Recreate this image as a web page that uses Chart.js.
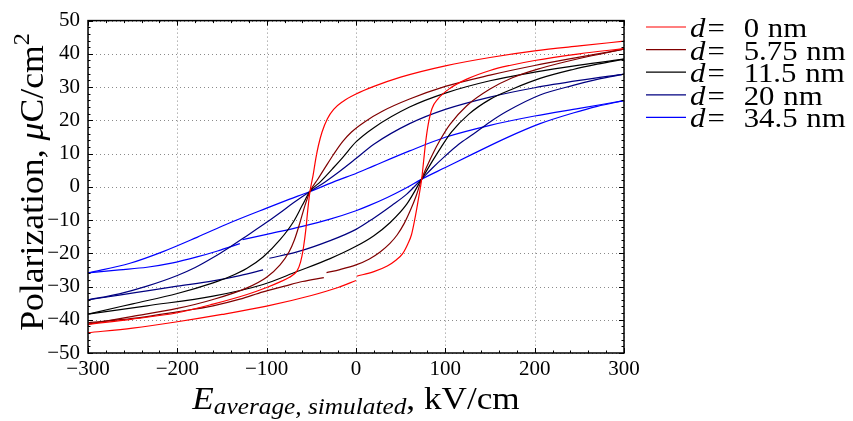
<!DOCTYPE html>
<html>
<head>
<meta charset="utf-8">
<script src="https://cdn.jsdelivr.net/npm/chart.js@4"></script>
<style>
  html, body { margin: 0; padding: 0; background: #fff; }
  #wrap { width: 853px; height: 421px; }
</style>
</head>
<body>
<div id="wrap"><canvas id="loopChart" width="853" height="421"></canvas></div>
<script>
// P-E loops, [E (kV/cm), P (uC/cm^2)]
// upper branch runs +300 -> -300, lower branch -300 -> +300 (some lower branches have a small jump)
var d0Up = [[300,43.8],[250,42.4],[200,40.9],[150,38.9],[100,36.4],[50,33],[20,30.2],[0,27.9],[-15,25.6],[-25,23.3],[-32,20.5],[-38,16.5],[-42,12.5],[-45,8.5],[-48,3.5],[-51.5,-1.4],[-54,-7],[-56,-12.5],[-59,-18.6],[-62,-22.6],[-66,-25.3],[-75,-27.3],[-85,-28.6],[-100,-30.3],[-122,-32.4],[-160,-35.3],[-200,-37.9],[-250,-39.8],[-300,-41.4]];
var d0LowA = [[-300,-43.9],[-250,-42.5],[-200,-40.6],[-150,-38.4],[-100,-35.9],[-50,-32.7],[-20,-30.3],[0,-28.2]];
var d0LowB = [[0.8,-26.9],[20,-25.5],[35,-23.8],[45,-22],[52,-20.2],[58,-17.2],[62,-14.5],[66,-9.5],[70,-3.5],[73.5,2.3],[76,8.5],[78,13.5],[81,19],[85,23.5],[92,26.5],[105,29.6],[124,32.4],[150,35],[172,36.5],[200,38],[250,40],[300,41.6]];

var d575Up = [[300,41.4],[250,39],[200,36.5],[150,33.6],[100,30.2],[60,26.4],[30,22.8],[10,19.6],[-5,16.5],[-15,13.6],[-25,9.8],[-35,5.6],[-43,2.2],[-51.5,-1.4],[-57,-5.5],[-63,-11],[-69,-16],[-75,-19.6],[-85,-23.5],[-100,-27.2],[-122,-30.4],[-160,-33.9],[-200,-36.6],[-250,-39],[-300,-41.3]];
var d575LowA = [[-300,-40.9],[-250,-39.6],[-200,-37.6],[-160,-35.8],[-130,-33.8],[-104,-31.6],[-80,-29.9],[-60,-28.5],[-36,-27.3]];
var d575LowB = [[-33,-25.8],[-18,-24.9],[0,-23.5],[15,-21.7],[27,-19.6],[38,-17],[46,-14.5],[54,-11],[61,-7],[67,-3],[73.5,2.3],[80,6.5],[87,10.5],[94,14],[105,18.7],[124,24.4],[150,29.4],[175,32.8],[206,35.6],[250,38.6],[300,41.4]];

var d115Up = [[300,38.4],[250,36.6],[200,34.5],[150,31.9],[100,28.2],[60,24],[20,17.8],[0,13.5],[-15,8.8],[-25,5.8],[-40,1.5],[-51.5,-1.4],[-60,-5.5],[-70,-10.5],[-85,-15.9],[-104,-21.1],[-122,-24.5],[-141,-27],[-160,-28.9],[-200,-32.1],[-250,-35.2],[-300,-38.3]];
var d115Low = [[-300,-38.3],[-234,-35.8],[-160,-32.9],[-104,-29.4],[-66,-25.5],[-29,-21.6],[0,-17.9],[20,-14.7],[38,-10.8],[56.8,-5.2],[73.5,2.3],[85,7.5],[95,11.8],[107,16.5],[126,21.8],[150,26.3],[176,29.5],[206,32.6],[243,35.3],[270,36.9],[300,38.4]];

var d20Up = [[300,33.9],[250,32],[200,29.8],[150,27],[100,23.3],[60,19],[20,12.8],[0,8.5],[-20,4.3],[-35,1.4],[-51.5,-1.4],[-70,-4.8],[-85,-7.8],[-100,-10.7],[-122,-14.7],[-141,-18.1],[-160,-21.3],[-180,-24.3],[-200,-26.7],[-234,-29.9],[-265,-32.2],[-300,-34]];
var d20LowA = [[-300,-34],[-265,-32.6],[-234,-31.3],[-200,-29.9],[-160,-28.3],[-130,-26.7],[-104,-25]];
var d20LowB = [[-97,-21.5],[-66,-19.6],[-29,-16.2],[0,-12.8],[19.4,-9.5],[40,-5.6],[56.8,-2.2],[73.5,2.3],[85,5.5],[100,9.3],[115,12.8],[131,15.8],[150,19.5],[169,22.7],[206,27.6],[243,30.5],[270,32.3],[300,33.9]];

var d345Up = [[300,25.9],[250,23.6],[200,21.3],[150,18.5],[100,14.9],[60,10.8],[20,6.3],[0,4],[-20,2],[-51.5,-1.4],[-75,-3.8],[-100,-6.4],[-141,-10.8],[-178,-15.2],[-216,-19.5],[-253,-23],[-300,-25.9]];
var d345LowA = [[-300,-25.9],[-265,-25],[-234,-24.2],[-205,-22.9],[-178,-21.1],[-155,-19.3],[-130,-17.1]];
var d345LowB = [[-127,-15.9],[-100,-14.3],[-60,-11.9],[-30,-9.8],[0,-7.2],[15,-5.6],[35,-3.2],[55,-0.5],[73.5,2.3],[100,5.8],[131,9.9],[169,14.8],[206,19],[243,22.2],[270,24.2],[300,25.9]];

var legendLabels = ['0', '5.75', '11.5', '20', '34.5'];
var lineColors = ['#ff0000', '#800000', '#000000', '#000080', '#0000ff'];
var branches = [
  [d0Up, d0LowA, d0LowB],
  [d575Up, d575LowA, d575LowB],
  [d115Up, d115Low],
  [d20Up, d20LowA, d20LowB],
  [d345Up, d345LowA, d345LowB]
];
var xTicks = [-300, -200, -100, 0, 100, 200, 300];
var yTicks = [-50, -40, -30, -20, -10, 0, 10, 20, 30, 40, 50];

var SERIF = '"Liberation Serif", "DejaVu Serif", serif';

var datasets = [];
branches.forEach(function(group, gi) {
  group.forEach(function(seg, si) {
    datasets.push({
      label: si === 0 ? legendLabels[gi] : '',
      legendIndex: si === 0 ? gi : -1,
      data: seg.map(function(p) { return { x: p[0], y: p[1] }; }),
      showLine: true,
      borderColor: lineColors[gi],
      borderWidth: 1.2,
      pointRadius: 0,
      cubicInterpolationMode: 'monotone',
      fill: false
    });
  });
});

function minus(v) { return String(v).replace('-', '\u2212'); }

// draw a run of text pieces, each with its own font and baseline shift
function drawRun(ctx, parts, x, y) {
  parts.forEach(function(p) {
    ctx.font = p.f;
    ctx.fillText(p.t, x, y + (p.dy || 0));
    x += ctx.measureText(p.t).width + (p.gap || 0);
  });
}
function runWidth(ctx, parts) {
  var w = 0;
  parts.forEach(function(p) { ctx.font = p.f; w += ctx.measureText(p.t).width + (p.gap || 0); });
  return w;
}

var framePlugin = {
  id: 'frame',
  beforeDraw: function(chart) {
    var ctx = chart.ctx;
    ctx.save();
    ctx.fillStyle = '#fff';
    ctx.fillRect(0, 0, chart.width, chart.height);
    ctx.restore();
  },
  beforeDatasetsDraw: function(chart) {
    var ctx = chart.ctx, a = chart.chartArea;
    var xs = chart.scales.x, ys = chart.scales.y;
    ctx.save();
    ctx.strokeStyle = '#8a8a8a';
    ctx.lineWidth = 1;
    ctx.setLineDash([1, 3]);
    xTicks.forEach(function(v) {
      var px = Math.round(xs.getPixelForValue(v)) + 0.5;
      ctx.beginPath(); ctx.moveTo(px, a.top); ctx.lineTo(px, a.bottom); ctx.stroke();
    });
    yTicks.forEach(function(v) {
      var py = Math.round(ys.getPixelForValue(v)) + 0.5;
      ctx.beginPath(); ctx.moveTo(a.left, py); ctx.lineTo(a.right, py); ctx.stroke();
    });
    ctx.restore();
  },
  afterDatasetsDraw: function(chart) {
    var ctx = chart.ctx, a = chart.chartArea;
    var xs = chart.scales.x, ys = chart.scales.y;
    ctx.save();
    ctx.strokeStyle = '#000';
    ctx.lineWidth = 1.5;
    ctx.strokeRect(a.left, a.top, a.right - a.left, a.bottom - a.top);
    ctx.lineWidth = 1;
    for (var v = -300; v <= 300; v += 20) {
      var px = Math.round(xs.getPixelForValue(v)) + 0.5;
      var len = (v % 100 === 0) ? 5 : 2.5;
      ctx.beginPath();
      ctx.moveTo(px, a.bottom); ctx.lineTo(px, a.bottom - len);
      ctx.moveTo(px, a.top); ctx.lineTo(px, a.top + len);
      ctx.stroke();
    }
    for (var w = -50; w <= 50; w += 2) {
      var py = Math.round(ys.getPixelForValue(w)) + 0.5;
      var l2 = (w % 10 === 0) ? 5 : 2.5;
      ctx.beginPath();
      ctx.moveTo(a.left, py); ctx.lineTo(a.left + l2, py);
      ctx.moveTo(a.right, py); ctx.lineTo(a.right - l2, py);
      ctx.stroke();
    }

    // legend (text stretched a little to get closer to the wide TeX glyphs)
    var lx = 646, ly = 27, step = 22.6;
    ctx.textBaseline = 'alphabetic';
    chart.data.datasets.forEach(function(ds) {
      if (ds.legendIndex < 0) return;
      var y = ly + ds.legendIndex * step;
      ctx.strokeStyle = ds.borderColor;
      ctx.lineWidth = 1.2;
      ctx.beginPath(); ctx.moveTo(lx, y); ctx.lineTo(lx + 40, y); ctx.stroke();
      ctx.fillStyle = '#000';
      ctx.save();
      ctx.translate(lx + 44, y + 10);
      ctx.scale(1.1, 1);
      drawRun(ctx, [
        { t: 'd', f: 'italic 28px ' + SERIF, gap: 2 },
        { t: '=', f: '28px ' + SERIF, gap: 17 },
        { t: ds.label, f: '28px ' + SERIF, gap: 8 },
        { t: 'nm', f: '28px ' + SERIF }
      ], 0, 0);
      ctx.restore();
    });

    // x title
    ctx.fillStyle = '#000';
    var xParts = [
      { t: 'E', f: 'italic 32px ' + SERIF },
      { t: 'average, simulated', f: 'italic 23px ' + SERIF, dy: 5 },
      { t: ', kV/cm', f: '32px ' + SERIF }
    ];
    var xw = runWidth(ctx, xParts) * 1.1;
    ctx.save();
    ctx.translate((a.left + a.right) / 2 - xw / 2, 409);
    ctx.scale(1.1, 1);
    drawRun(ctx, xParts, 0, 0);
    ctx.restore();

    // y title
    ctx.save();
    ctx.translate(43, 182);
    ctx.rotate(-Math.PI / 2);
    ctx.scale(1.05, 1);
    var yParts = [
      { t: 'Polarization, ', f: '34px ' + SERIF },
      { t: '\u03bc', f: 'italic 34px ' + SERIF },
      { t: 'C/cm', f: '34px ' + SERIF },
      { t: '2', f: '23px ' + SERIF, dy: -14 }
    ];
    var yw = runWidth(ctx, yParts);
    drawRun(ctx, yParts, -yw / 2, 0);
    ctx.restore();
    ctx.restore();
  }
};

var ctxLoop = document.getElementById('loopChart').getContext('2d');
var loopChart = new Chart(ctxLoop, {
  type: 'scatter',
  data: { datasets: datasets },
  options: {
    responsive: false,
    animation: false,
    layout: { padding: { top: 14, right: 229, left: 0, bottom: 0 } },
    plugins: { legend: { display: false }, tooltip: { enabled: false } },
    scales: {
      x: {
        type: 'linear', min: -300, max: 300,
        afterFit: function(s) { s.height = 68; },
        grid: { display: false, drawTicks: false },
        border: { display: false },
        ticks: {
          stepSize: 100, padding: 4, color: '#000', maxRotation: 0,
          font: { family: SERIF, size: 21 },
          callback: function(v) { return minus(v); }
        }
      },
      y: {
        type: 'linear', min: -50, max: 50,
        afterFit: function(s) { s.width = 88; },
        grid: { display: false, drawTicks: false },
        border: { display: false },
        ticks: {
          stepSize: 10, padding: 8, color: '#000',
          font: { family: SERIF, size: 21 },
          callback: function(v) { return minus(v); }
        }
      }
    }
  },
  plugins: [framePlugin]
});
</script>
</body>
</html>
